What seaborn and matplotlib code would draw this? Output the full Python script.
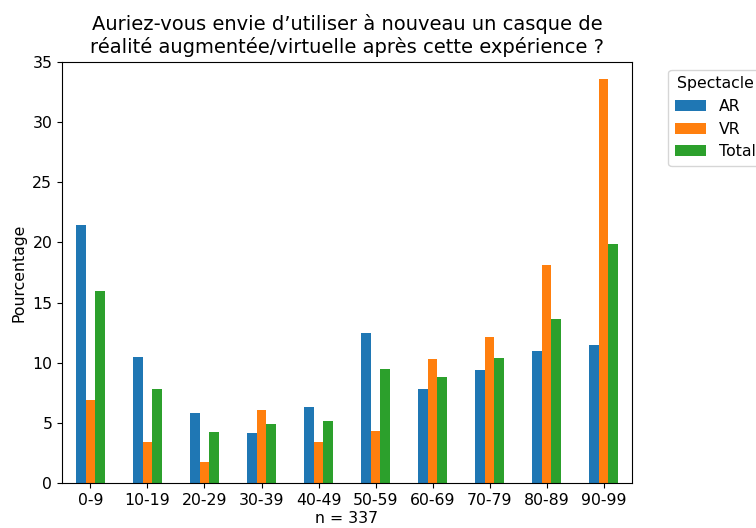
import pandas as pd
import numpy as np
import matplotlib
matplotlib.use('Agg')
import matplotlib.pyplot as plt
import seaborn as sns

tranches = ['0-9', '10-19', '20-29', '30-39', '40-49', '50-59', '60-69', '70-79', '80-89', '90-99']
ar = [21.4, 10.45, 5.8, 4.2, 6.3, 12.5, 7.85, 9.4, 10.95, 11.5]
vr = [6.9, 3.45, 1.75, 6.05, 3.45, 4.3, 10.35, 12.1, 18.1, 33.6]
total = [15.95, 7.8, 4.25, 4.9, 5.2, 9.45, 8.8, 10.4, 13.65, 19.85]

df = pd.DataFrame({'tranche': tranches, 'AR': ar, 'VR': vr, 'Total': total})
long_df = df.melt(id_vars='tranche', var_name='Spectacle', value_name='pct')

plt.rcParams['font.size'] = 11.3

fig, ax = plt.subplots(figsize=(7.56, 5.28), dpi=100)
fig.subplots_adjust(left=0.082, right=0.836, top=0.883, bottom=0.085)

sns.barplot(data=long_df, x='tranche', y='pct', hue='Spectacle',
            order=tranches, hue_order=['AR', 'VR', 'Total'],
            palette=['#1f77b4', '#ff7f0e', '#2ca02c'], saturation=1,
            width=0.5, linewidth=0, ax=ax, errorbar=None)

ax.set_xlim(-0.5, 9.5)
ax.set_ylim(0, 35)
ax.set_xlabel('n = 337', fontsize=11.3, labelpad=2)
ax.set_ylabel('Pourcentage', fontsize=11.3)
ax.tick_params(labelsize=11.3)
ax.set_title("Auriez-vous envie d\u2019utiliser à nouveau un casque de\nréalité augmentée/virtuelle après cette expérience ?", fontsize=14)
ax.legend(title='Spectacle', bbox_to_anchor=(1.05, 1), loc='upper left',
          fontsize=11.3, title_fontsize=11.3)

fig.savefig('out.png', dpi=100)
